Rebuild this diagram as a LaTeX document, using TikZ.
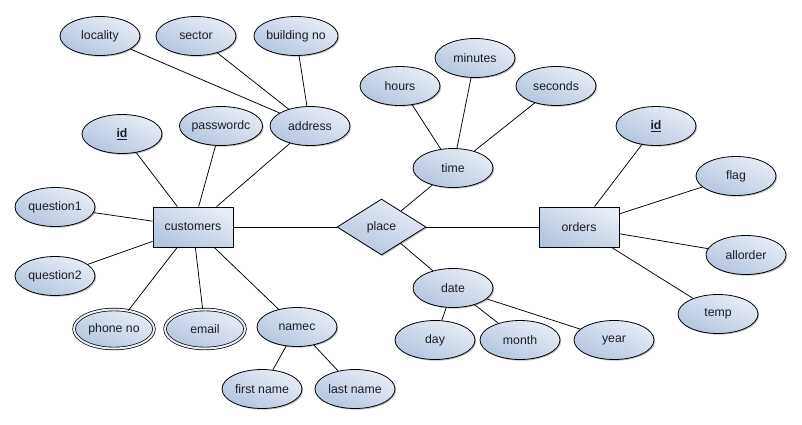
\documentclass[tikz,border=0pt]{standalone}
\usepackage{fontspec}
\setmainfont{Liberation Sans}
\usetikzlibrary{shapes.geometric,shadows}
\definecolor{fillA}{HTML}{E8EDF6}
\definecolor{fillB}{HTML}{B4C5DE}
\definecolor{txt}{HTML}{1E1E28}
\tikzset{
  base/.style={draw=black, line width=0.8pt, text=txt, font=\fontsize{12.3}{14}\selectfont,
    top color=fillA, bottom color=fillB, shading angle=-25,
    drop shadow={shadow xshift=1.2pt, shadow yshift=-1.2pt, opacity=0.25, fill=black}},
  attr/.style={base, ellipse, minimum width=80pt, minimum height=39pt, inner sep=0pt},
  mattr/.style={attr, double=fillA, double distance=2pt, line width=0.7pt},
  ent/.style={base, rectangle, minimum width=80pt, minimum height=40pt, inner sep=0pt},
  rel/.style={base, diamond, aspect=1.6, minimum width=89pt, minimum height=56pt, inner sep=0pt},
  conn/.style={draw=black, line width=0.75pt}
}
\begin{document}
\begin{tikzpicture}[x=1pt,y=-1pt]
\useasboundingbox (0,0) rectangle (802,424);
% address group
\node[attr] (locality) at (100,36) {locality};
\node[attr] (sector) at (196,36) {sector};
\node[attr] (building) at (296,36) {building no};
\node[attr] (address) at (310,126) {address};
\node[attr] (passwordc) at (221,126) {passwordc};
\node[attr] (cid) at (122,134) {\textbf{\underline{id}}};
\node[attr] (q1) at (55,207) {question1};
\node[attr] (q2) at (55,276) {question2};
\node[mattr] (phone) at (114,329) {phone no};
\node[mattr] (email) at (205,329) {email};
\node[attr] (namec) at (297,327) {namec};
\node[attr] (first) at (262,389) {first name};
\node[attr] (last) at (355,389) {last name};
\node[ent] (customers) at (193,227) {customers};
\node[rel] (place) at (381.5,227) {place};
\node[ent] (orders) at (579,227) {orders};
\node[attr] (time) at (453,168) {time};
\node[attr] (hours) at (400,86) {hours};
\node[attr] (minutes) at (475,58) {minutes};
\node[attr] (seconds) at (556,86) {seconds};
\node[attr] (date) at (453,288) {date};
\node[attr] (day) at (435,340) {day};
\node[attr] (month) at (520,340) {month};
\node[attr] (year) at (614,340) {year};
\node[attr] (oid) at (656,126) {\textbf{\underline{id}}};
\node[attr] (flag) at (736,176) {flag};
\node[attr] (allorder) at (746,255) {allorder};
\node[attr] (temp) at (718,314) {temp};
% connectors
\draw[conn] (address) -- (locality);
\draw[conn] (address) -- (sector);
\draw[conn] (address) -- (building);
\draw[conn] (customers) -- (cid);
\draw[conn] (customers) -- (passwordc);
\draw[conn] (customers) -- (address);
\draw[conn] (customers) -- (q1);
\draw[conn] (customers) -- (q2);
\draw[conn] (customers) -- (phone);
\draw[conn] (customers) -- (email);
\draw[conn] (customers) -- (namec);
\draw[conn] (namec) -- (first);
\draw[conn] (namec) -- (last);
\draw[conn] (customers) -- (place);
\draw[conn] (place) -- (orders);
\draw[conn] (place) -- (time);
\draw[conn] (time) -- (hours);
\draw[conn] (time) -- (minutes);
\draw[conn] (time) -- (seconds);
\draw[conn] (place) -- (date);
\draw[conn] (date) -- (day);
\draw[conn] (date) -- (month);
\draw[conn] (date) -- (year);
\draw[conn] (orders) -- (oid);
\draw[conn] (orders) -- (flag);
\draw[conn] (orders) -- (allorder);
\draw[conn] (orders) -- (temp);
\end{tikzpicture}
\end{document}
